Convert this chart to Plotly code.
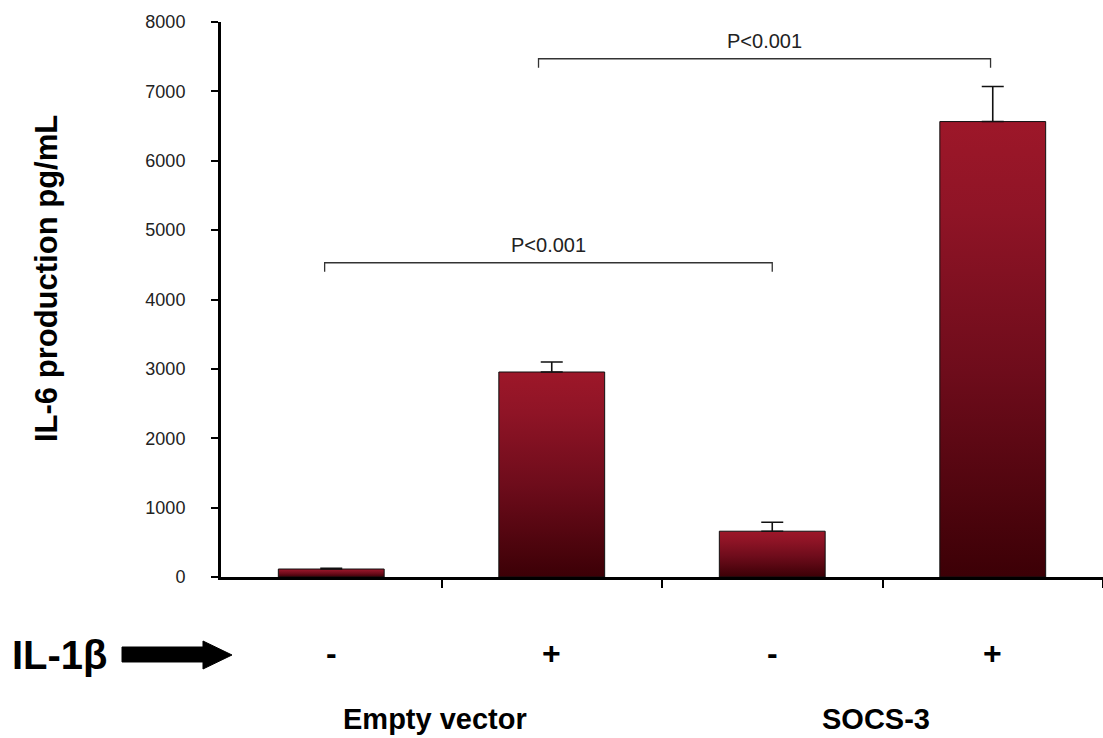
import plotly.graph_objects as go

# ---------------- data ----------------
categories = ["EV -", "EV +", "SOCS-3 -", "SOCS-3 +"]
il1b_labels = ["-", "+", "-", "+"]
il6_values = [115, 2955, 660, 6565]
il6_errors = [10, 145, 130, 505]
group_labels = ["Empty vector", "SOCS-3"]
group_members = [[0, 1], [2, 3]]
bracket_from = [-0.03, 0.94]
bracket_to = [2.0, 2.99]
bracket_height = [4530, 7470]
bracket_text = ["P<0.001", "P<0.001"]
y_ticks = [0, 1000, 2000, 3000, 4000, 5000, 6000, 7000, 8000]

# ---------------- layout constants ----------------
W, H = 1103, 738
ML, MR, MT, MB = 221, 0, 22, 161
PW, PH = W - ML - MR, H - MT - MB
BAR_W = 0.48
TICK_DROP = 130
FONT = "Liberation Sans, Arial, sans-serif"


def px2paper(px, py):
    return (px - ML) / PW, (H - MB - py) / PH


fig = go.Figure()

# bars with vertical gradient fill
for i, v in enumerate(il6_values):
    x0, x1 = i - BAR_W / 2, i + BAR_W / 2
    fig.add_trace(go.Scatter(
        x=[x0, x0, x1, x1, x0], y=[0, v, v, 0, 0],
        mode="lines", fill="toself",
        fillgradient=dict(type="vertical",
                          colorscale=[[0, "#3c0006"], [0.45, "#6e0c1b"],
                                      [0.8, "#8f1426"], [1, "#9d1729"]]),
        line=dict(color="#111111", width=1),
        hoverinfo="skip", showlegend=False, name=categories[i]))

# error bars (upper only)
fig.add_trace(go.Scatter(
    x=list(range(len(il6_values))), y=il6_values, mode="markers",
    marker=dict(size=1, color="rgba(0,0,0,0)"),
    error_y=dict(type="data", array=il6_errors, arrayminus=[0] * len(il6_errors),
                 color="#111111", thickness=1.6, width=11),
    showlegend=False, hoverinfo="skip"))

# significance brackets
for a, b, h, t in zip(bracket_from, bracket_to, bracket_height, bracket_text):
    fig.add_trace(go.Scatter(
        x=[a, a, b, b], y=[h - TICK_DROP, h, h, h - TICK_DROP], mode="lines",
        line=dict(color="#333333", width=1.3), showlegend=False, hoverinfo="skip"))
    fig.add_annotation(x=(a + b) / 2, y=h, xref="x", yref="y", text=t,
                       showarrow=False, xanchor="center", yanchor="bottom", yshift=5,
                       font=dict(family=FONT, size=20, color="#222222"))

# IL-1β +/- labels
for i, lab in enumerate(il1b_labels):
    fig.add_annotation(x=i, y=px2paper(0, 653)[1], xref="x", yref="paper",
                       text="<b>%s</b>" % lab, showarrow=False,
                       xanchor="center", yanchor="middle",
                       font=dict(family=FONT, size=32, color="#000000"))

# group labels
for lab, mem in zip(group_labels, group_members):
    fig.add_annotation(x=sum(mem) / len(mem) - 0.03, y=px2paper(0, 719)[1],
                       xref="x", yref="paper", text="<b>%s</b>" % lab,
                       showarrow=False, xanchor="center", yanchor="middle",
                       font=dict(family=FONT, size=29, color="#000000"))

# IL-1β label and arrow
lx, ly = px2paper(60, 655)
fig.add_annotation(x=lx, y=ly, xref="paper", yref="paper", text="<b>IL-1β</b>",
                   showarrow=False, xanchor="center", yanchor="middle",
                   font=dict(family=FONT, size=40, color="#000000"))
arrow_pts = [(122, 647), (203, 647), (203, 641), (232, 655), (203, 669), (203, 662), (122, 662)]
path = "M " + " L ".join("%.5f,%.5f" % px2paper(x, y) for x, y in arrow_pts) + " Z"
fig.add_shape(type="path", path=path, xref="paper", yref="paper",
              fillcolor="#000000", line=dict(color="#000000", width=1))

# y-axis title
tx, ty = px2paper(46, 279)
fig.add_annotation(x=tx, y=ty, xref="paper", yref="paper",
                   text="<b>IL-6 production pg/mL</b>", textangle=-90,
                   showarrow=False, xanchor="center", yanchor="middle",
                   font=dict(family=FONT, size=31, color="#000000"))

fig.update_layout(
    width=W, height=H,
    margin=dict(l=ML, r=MR, t=MT, b=MB),
    paper_bgcolor="white", plot_bgcolor="white",
    showlegend=False,
    xaxis=dict(range=[-0.5, len(categories) - 0.5], showgrid=False, zeroline=False,
               showline=True, linecolor="#000000", linewidth=3,
               tickmode="array", tickvals=[i + 0.5 for i in range(len(categories))],
               ticktext=[""] * len(categories),
               ticks="outside", ticklen=8, tickwidth=1.5, tickcolor="#000000"),
    yaxis=dict(range=[0, 8000], showgrid=False, zeroline=False,
               showline=True, linecolor="#000000", linewidth=3,
               tickmode="array", tickvals=y_ticks, ticktext=[str(t) for t in y_ticks],
               ticks="outside", ticklen=7, tickwidth=2, tickcolor="#000000",
               ticklabelstandoff=22,
               tickfont=dict(family=FONT, size=18, color="#222222")),
)

fig.write_html("out.html")
